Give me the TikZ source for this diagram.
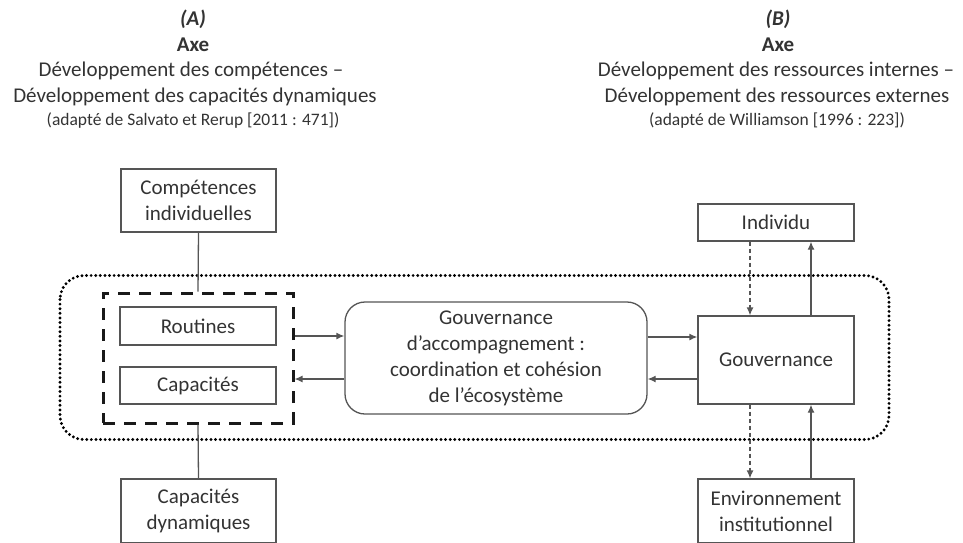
\documentclass[tikz,border=0pt]{standalone}
\usepackage{fontspec}
\setmainfont{Carlito}
\usetikzlibrary{arrows.meta}
\definecolor{ln}{HTML}{555555}
\definecolor{tx}{HTML}{333333}
\begin{document}
\begin{tikzpicture}[x=1pt,y=-1pt,
  box/.style={draw=ln, line width=1.3pt, text=tx, align=center, inner sep=0pt,
    font=\fontsize{21}{26}\selectfont},
  hdr/.style={text=tx, anchor=base, inner sep=0pt, font=\fontsize{21}{26}\selectfont},
  hdrsmall/.style={text=tx, anchor=base, inner sep=0pt, font=\fontsize{17.5}{21}\selectfont},
  arr/.style={draw=ln, line width=1.3pt, -{Latex[length=8pt,width=7pt]}},
  darr/.style={arr, dash pattern=on 4pt off 3pt},
  plain/.style={draw=ln, line width=1.3pt}
]
\useasboundingbox (0,0) rectangle (963,542);

% headers
\node[hdr] (ha) at (193,25) {\textbf{\textit{(A)}}};
\node[hdr] (hax) at (193,51) {\textbf{Axe}};
\node[hdr] (ha1) at (191,76) {Développement des compétences –};
\node[hdr] (ha2) at (195,102) {Développement des capacités dynamiques};
\node[hdrsmall] (ha3) at (193,125) {(adapté de Salvato et Rerup [2011 : 471])};

\node[hdr] (hb) at (778,25) {\textbf{\textit{(B)}}};
\node[hdr] (hbx) at (778,51) {\textbf{Axe}};
\node[hdr] (hb1) at (776,76) {Développement des ressources internes –};
\node[hdr] (hb2) at (777,102) {Développement des ressources externes};
\node[hdrsmall] (hb3) at (777,125) {(adapté de Williamson [1996 : 223])};

% dotted frame
\draw[line width=3.2pt, dash pattern=on 0pt off 4.6pt, line cap=round, rounded corners=24pt]
  (60,275.5) rectangle (889,439.5);

% left column
\node[box, minimum width=155pt, minimum height=63pt] (comp) at (198.5,200.5)
  {Compétences\\individuelles};
\node[draw=black!90, line width=3pt, dash pattern=on 12pt off 9pt,
  minimum width=190pt, minimum height=130pt, inner sep=0pt] (dbox) at (198,358) {};
\node[box, minimum width=156pt, minimum height=38pt] (rout) at (198,326) {Routines};
\node[box, minimum width=156pt, minimum height=37pt] (capa) at (198,385.5) {Capacités};
\node[box, minimum width=155pt, minimum height=64pt] (capdyn) at (198.5,511) {Capacités\\dynamiques};

% central
\node[box, rounded corners=20pt, minimum width=302pt, minimum height=112pt] (gacc) at (496,358)
  {Gouvernance\\d’accompagnement :\\coordination et cohésion\\de l’écosystème};

% right column
\node[box, minimum width=156pt, minimum height=37pt] (indiv) at (776,222.5) {Individu};
\node[box, minimum width=156pt, minimum height=88pt] (gouv) at (776,360) {Gouvernance};
\node[box, minimum width=156pt, minimum height=64pt] (env) at (776,511) {Environnement\\institutionnel};

% connectors left
\draw[plain] (comp.south) -- (dbox.north);
\draw[plain] (dbox.south) -- (capdyn.north);
\draw[arr] ([yshift=22pt]dbox.east) -- ([yshift=22pt]dbox.east -| gacc.west);
\draw[arr] ([yshift=-21pt]gacc.west) -- ([yshift=-21pt]gacc.west -| dbox.east);

% connectors right
\draw[arr] ([yshift=21pt]gacc.east) -- ([yshift=21pt]gacc.east -| gouv.west);
\draw[arr] ([yshift=-21pt]gacc.east -| gouv.west) -- ([yshift=-21pt]gacc.east);

\draw[darr] ([xshift=-26pt]indiv.south) -- ([xshift=-26pt]gouv.north);
\draw[arr] ([xshift=35pt]gouv.north) -- ([xshift=35pt]indiv.south);
\draw[darr] ([xshift=-26pt]gouv.south) -- ([xshift=-26pt]env.north);
\draw[arr] ([xshift=35pt]env.north) -- ([xshift=35pt]gouv.south);
\end{tikzpicture}
\end{document}
